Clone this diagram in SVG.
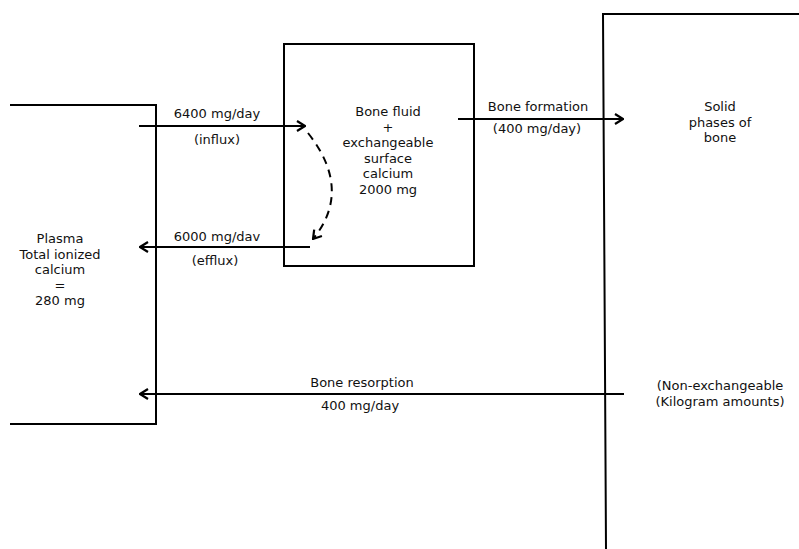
<svg xmlns="http://www.w3.org/2000/svg" width="799" height="549" viewBox="0 0 799 549">
<defs>
<marker id="arr" viewBox="0 0 10 12" refX="9" refY="6" markerWidth="10" markerHeight="12" markerUnits="userSpaceOnUse" orient="auto">
<path d="M1,1 L9,6 L1,11" fill="none" stroke="#000" stroke-width="2.2"/>
</marker>
</defs>
<style>
.ln{fill:none;stroke:#000;stroke-width:2}
.t{font-family:"DejaVu Sans",sans-serif;font-size:13px;fill:#111;text-anchor:middle}
</style>
<rect width="799" height="549" fill="#fff"/>
<g id="plasma">
<path class="ln" d="M10,105 H156 V424 H10"/>
<text class="t" x="60" y="243">Plasma</text>
<text class="t" x="60" y="258.5">Total ionized</text>
<text class="t" x="60" y="274">calcium</text>
<text class="t" x="60" y="289.5">=</text>
<text class="t" x="60" y="305">280 mg</text>
</g>
<g id="bonefluid">
<rect class="ln" x="284" y="44" width="190" height="222"/>
<text class="t" x="388" y="116">Bone fluid</text>
<text class="t" x="388" y="131.5">+</text>
<text class="t" x="388" y="147">exchangeable</text>
<text class="t" x="388" y="162.5">surface</text>
<text class="t" x="388" y="178">calcium</text>
<text class="t" x="388" y="193.5">2000 mg</text>
</g>
<g id="solid">
<path class="ln" d="M799,14 H603 L606,549"/>
<text class="t" x="720" y="111">Solid</text>
<text class="t" x="720" y="126.5">phases of</text>
<text class="t" x="720" y="142">bone</text>
<text class="t" x="720" y="390">(Non-exchangeable</text>
<text class="t" x="720" y="406">(Kilogram amounts)</text>
</g>
<g id="connectors">
<line class="ln" x1="139" y1="126" x2="305" y2="126" marker-end="url(#arr)"/>
<text class="t" x="217" y="118">6400 mg/day</text>
<text class="t" x="217" y="144">(influx)</text>
<line class="ln" x1="310" y1="247" x2="140" y2="247" marker-end="url(#arr)"/>
<text class="t" x="217" y="241">6000 mg/dav</text>
<text class="t" x="215" y="265">(efflux)</text>
<path class="ln" d="M308,133 Q353,190 313,239" stroke-dasharray="8,6" marker-end="url(#arr)"/>
<line class="ln" x1="458" y1="119" x2="623" y2="119" marker-end="url(#arr)"/>
<text class="t" x="538" y="111">Bone formation</text>
<text class="t" x="537" y="133">(400 mg/day)</text>
<line class="ln" x1="624" y1="394" x2="140" y2="394" marker-end="url(#arr)"/>
<text class="t" x="362" y="387">Bone resorption</text>
<text class="t" x="360" y="410">400 mg/day</text>
</g>
</svg>
